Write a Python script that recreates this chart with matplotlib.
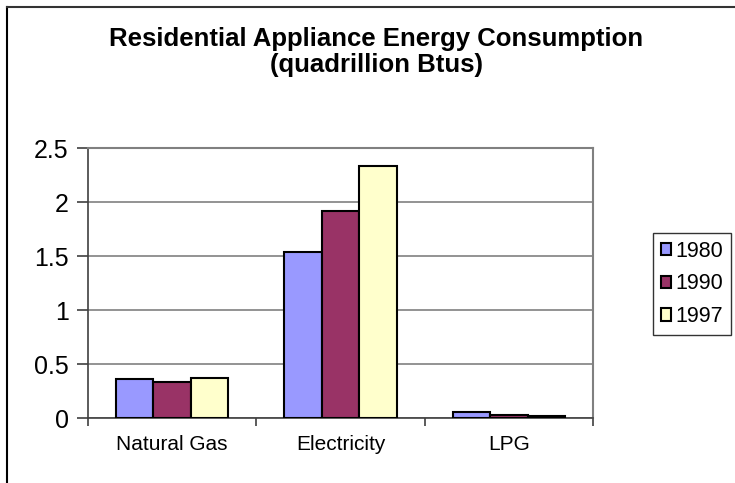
import numpy as np
import matplotlib.pyplot as plt
from matplotlib.lines import Line2D

plt.rcParams['font.family'] = ['Liberation Sans', 'DejaVu Sans']

# Residential appliance energy use by fuel (quadrillion Btu)
fuels = ['Natural Gas', 'Electricity', 'LPG']
years = ['1980', '1990', '1997']
use_1980 = [0.36, 1.54, 0.055]
use_1990 = [0.33, 1.92, 0.03]
use_1997 = [0.37, 2.33, 0.02]
series = [use_1980, use_1990, use_1997]
colors = ['#9999FF', '#993366', '#FFFFCC']

fig = plt.figure(figsize=(7.35, 4.83), dpi=100)
ax = fig.add_axes([88/735, 1 - 418/483, 505/735, 270/483])

x = np.arange(len(fuels))
width = 1 / 4.5
for i, (vals, col, yr) in enumerate(zip(series, colors, years)):
    ax.bar(x + (i - 1) * width, vals, width, color=col, edgecolor='black',
           linewidth=1.5, label=yr, zorder=3)

ax.set_xlim(-0.5, 2.5)
ax.set_ylim(0, 2.5)
ax.set_yticks([0, 0.5, 1, 1.5, 2, 2.5])
ax.set_yticklabels(['0', '0.5', '1', '1.5', '2', '2.5'], fontsize=18)
ax.yaxis.grid(True, color='#808080', linewidth=1.2, zorder=0)

# category labels sit between boundary ticks
ax.set_xticks([-0.5, 0.5, 1.5, 2.5])
ax.set_xticklabels([])
ax.set_xticks(x, minor=True)
ax.set_xticklabels(fuels, minor=True, fontsize=15)
ax.tick_params(axis='x', which='minor', length=0, pad=12)
ax.tick_params(axis='x', which='major', length=6, width=1.2, color='#404040', direction='out')
ax.tick_params(axis='y', length=8, width=1.2, color='#404040', direction='out', pad=6)

for side in ['top', 'right']:
    ax.spines[side].set_color('#808080')
    ax.spines[side].set_linewidth(1.5)
for side in ['left', 'bottom']:
    ax.spines[side].set_color('#404040')
    ax.spines[side].set_linewidth(1.2)

leg = ax.legend(loc='upper left', bbox_to_anchor=(653/735, 1 - 233/483),
                bbox_transform=fig.transFigure, fontsize=15.5, frameon=True,
                fancybox=False, edgecolor='black', handlelength=0.5,
                handleheight=0.5, handletextpad=0.2, labelspacing=0.55,
                borderpad=0.35, borderaxespad=0)
leg.get_frame().set_linewidth(1.0)

fig.text(376/735, 1 - 27/483,
         'Residential Appliance Energy Consumption\n(quadrillion Btus)',
         ha='center', va='top', fontsize=18.5, fontweight='bold', linespacing=1.1)

# chart frame edges
fig.add_artist(Line2D([7/735, 7/735], [0, 1 - 7/483], transform=fig.transFigure,
                      color='black', linewidth=1.5))
fig.add_artist(Line2D([7/735, 1], [1 - 7/483, 1 - 7/483], transform=fig.transFigure,
                      color='#333333', linewidth=1.5))

fig.savefig('out.png', dpi=100)
